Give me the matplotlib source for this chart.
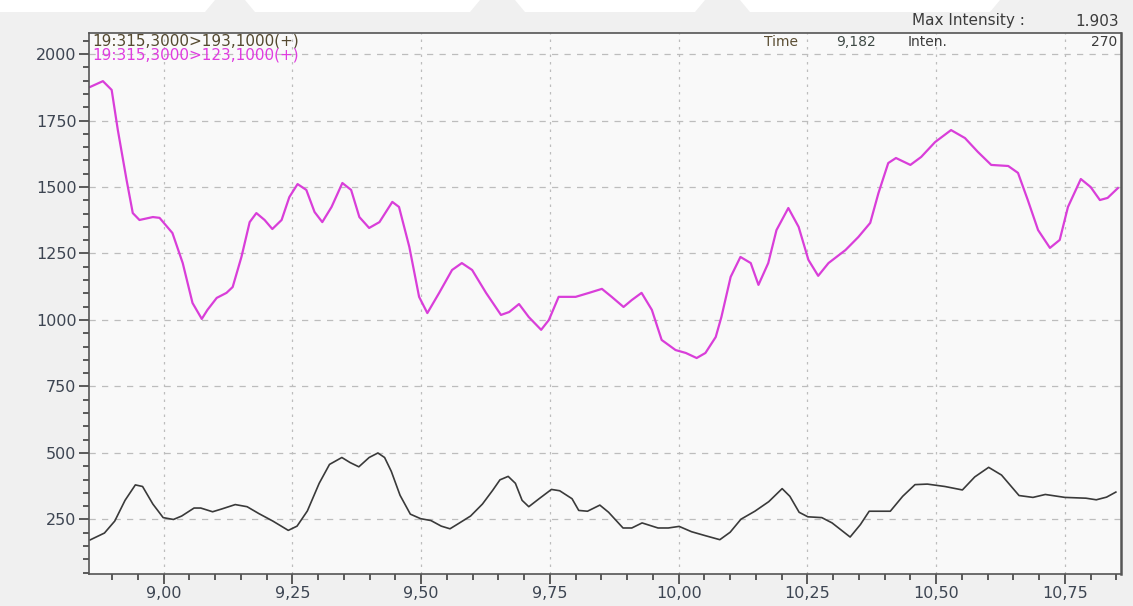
import matplotlib
matplotlib.use("Agg")
from matplotlib import pyplot as plt
from matplotlib.patches import Polygon
from matplotlib.ticker import MultipleLocator, FixedLocator, FixedFormatter

# Transition 315,3000 > 123,1000 (magenta trace)
time_123 = [8.857, 8.882, 8.899, 8.911, 8.928, 8.940, 8.953, 8.979, 8.992, 9.017,
            9.037, 9.056, 9.074, 9.085, 9.103, 9.122, 9.134, 9.151, 9.167, 9.180,
            9.196, 9.211, 9.229, 9.244, 9.260, 9.277, 9.293, 9.308, 9.326, 9.347,
            9.364, 9.380, 9.399, 9.419, 9.444, 9.457, 9.477, 9.496, 9.512, 9.535,
            9.560, 9.579, 9.599, 9.626, 9.655, 9.671, 9.690, 9.709, 9.733, 9.748,
            9.767, 9.800, 9.826, 9.851, 9.870, 9.893, 9.909, 9.928, 9.948, 9.967,
            9.994, 10.014, 10.035, 10.052, 10.072, 10.083, 10.101, 10.120, 10.140, 10.155,
            10.174, 10.190, 10.213, 10.233, 10.252, 10.271, 10.291, 10.324, 10.349, 10.372,
            10.388, 10.407, 10.422, 10.450, 10.471, 10.498, 10.529, 10.556, 10.581, 10.607,
            10.640, 10.659, 10.678, 10.698, 10.721, 10.740, 10.756, 10.781, 10.800, 10.818,
            10.833, 10.853]
inten_123 = [1876, 1898, 1865, 1714, 1526, 1402, 1376, 1387, 1384, 1327,
             1214, 1064, 1004, 1038, 1083, 1102, 1124, 1237, 1368, 1402,
             1376, 1342, 1376, 1462, 1511, 1489, 1406, 1368, 1425, 1515,
             1489, 1387, 1346, 1368, 1444, 1425, 1275, 1087, 1026, 1102,
             1188, 1214, 1188, 1102, 1019, 1030, 1060, 1011, 963, 1000,
             1087, 1087, 1102, 1117, 1087, 1049, 1075, 1102, 1038, 925,
             887, 876, 857, 876, 936, 1011, 1162, 1237, 1214, 1132,
             1214, 1338, 1421, 1350, 1226, 1166, 1214, 1263, 1312, 1365,
             1477, 1590, 1609, 1583, 1613, 1669, 1714, 1684, 1632, 1583,
             1579, 1553, 1451, 1338, 1271, 1301, 1425, 1530, 1500, 1451,
             1459, 1496]

# Transition 315,3000 > 193,1000 (black trace)
time_193 = [8.857, 8.885, 8.905, 8.925, 8.945, 8.959, 8.979, 8.999, 9.019, 9.035,
            9.059, 9.072, 9.095, 9.112, 9.139, 9.162, 9.185, 9.212, 9.242, 9.259,
            9.279, 9.302, 9.322, 9.346, 9.362, 9.379, 9.399, 9.416, 9.429, 9.442,
            9.459, 9.479, 9.499, 9.519, 9.539, 9.556, 9.572, 9.596, 9.619, 9.639,
            9.653, 9.669, 9.683, 9.696, 9.709, 9.729, 9.753, 9.769, 9.793, 9.806,
            9.823, 9.847, 9.864, 9.892, 9.909, 9.929, 9.960, 9.980, 10.001, 10.025,
            10.052, 10.080, 10.100, 10.121, 10.148, 10.175, 10.201, 10.216, 10.234, 10.251,
            10.278, 10.298, 10.333, 10.353, 10.370, 10.391, 10.411, 10.435, 10.459, 10.483,
            10.517, 10.551, 10.575, 10.602, 10.627, 10.661, 10.688, 10.712, 10.750, 10.791,
            10.811, 10.831, 10.849]
inten_193 = [173, 199, 244, 322, 380, 374, 308, 257, 250, 263,
             293, 293, 279, 289, 306, 298, 272, 244, 209, 225,
             282, 386, 457, 483, 464, 448, 483, 500, 483, 431,
             341, 270, 253, 246, 225, 215, 234, 263, 308, 360,
             399, 412, 386, 322, 298, 328, 363, 358, 328, 284,
             281, 304, 277, 218, 218, 237, 218, 218, 224, 204,
             189, 174, 202, 251, 281, 317, 366, 337, 277, 260,
             257, 237, 184, 231, 281, 281, 281, 337, 381, 383,
             374, 361, 410, 446, 417, 340, 333, 344, 333, 330,
             324, 334, 353]

x_ticks = [9.00, 9.25, 9.50, 9.75, 10.00, 10.25, 10.50, 10.75]
x_tick_labels = ["9,00", "9,25", "9,50", "9,75", "10,00", "10,25", "10,50", "10,75"]
y_ticks = [250, 500, 750, 1000, 1250, 1500, 1750, 2000]

W, H = 1133, 606
plt.rcParams['font.family'] = ['DejaVu Sans']


def fpos(x, y):
    # pixel position (from top-left) -> figure fraction
    return x / W, 1 - y / H


fig = plt.figure(figsize=(W / 100, H / 100), dpi=100, facecolor='#f0f0f0')

# white slanted banner across the top edge
for xs in [(0, 215, 205, 0), (245, 480, 470, 255), (515, 705, 695, 525),
           (740, 1000, 990, 750)]:
    x0, x1, x2, x3 = xs
    pts = [fpos(x0, 0), fpos(x1, 0), fpos(x2, 12), fpos(x3, 12)]
    fig.patches.append(Polygon(pts, closed=True, transform=fig.transFigure,
                               facecolor='white', edgecolor='none', zorder=0))

ax = fig.add_axes([89 / W, (H - 574) / H, 1032 / W, 541 / H])
ax.set_facecolor('#f9f9f9')

ax.plot(time_123, inten_123, color='#d93ed9', lw=1.6, solid_joinstyle='round')
ax.plot(time_193, inten_193, color='#3a3a3a', lw=1.2, solid_joinstyle='round')

ax.set_xlim(8.855, 10.859)
ax.set_ylim(45, 2079)

ax.xaxis.set_major_locator(FixedLocator(x_ticks))
ax.xaxis.set_major_formatter(FixedFormatter(x_tick_labels))
ax.xaxis.set_minor_locator(MultipleLocator(0.05))
ax.yaxis.set_major_locator(FixedLocator(y_ticks))
ax.yaxis.set_minor_locator(MultipleLocator(50))

label_col = '#3d4552'
ax.tick_params(which='major', direction='out', length=7, width=1.2,
               color='#404040', labelsize=11.5, labelcolor=label_col, pad=2)
ax.tick_params(which='minor', direction='out', length=4, width=1.2, color='#404040')

ax.grid(True, axis='y', color='#bdbdbd', linestyle=(0, (5, 5)), lw=0.9)
ax.grid(True, axis='x', color='#bdbdbd', linestyle=(0, (2, 4)), lw=0.9)

for side in ['left', 'bottom', 'top']:
    ax.spines[side].set_color('#555555')
    ax.spines[side].set_linewidth(1.2)
ax.spines['right'].set_color('#555555')
ax.spines['right'].set_linewidth(1.8)

# header annotations
fig.text(*fpos(92, 41), "19:315,3000>193,1000(+)", color='#54492f', fontsize=11,
         va='center', ha='left')
fig.text(*fpos(92, 55), "19:315,3000>123,1000(+)", color='#e03ce0', fontsize=11,
         va='center', ha='left')
fig.text(*fpos(764, 42), "Time", color='#5a4d32', fontsize=10, va='center', ha='left')
fig.text(*fpos(836, 42), "9,182", color='#3f4a46', fontsize=10, va='center', ha='left')
fig.text(*fpos(908, 42), "Inten.", color='#3c3c3c', fontsize=10, va='center', ha='left')
fig.text(*fpos(1117, 42), "270", color='#3c3c3c', fontsize=10, va='center', ha='right')
fig.text(*fpos(912, 21), "Max Intensity :", color='#3c3c3c', fontsize=11,
         va='center', ha='left')
fig.text(*fpos(1119, 21), "1.903", color='#3c3c3c', fontsize=11, va='center', ha='right')

fig.savefig('out.png', dpi=100, facecolor=fig.get_facecolor())
